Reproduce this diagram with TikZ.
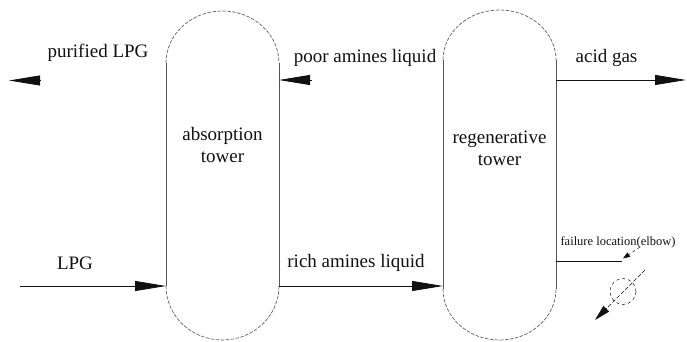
\documentclass[tikz,border=0pt]{standalone}
\usepackage{fontspec}
\setmainfont{Liberation Serif}
\newfontfamily\lpgfonte{Liberation Serif}
\usetikzlibrary{positioning,arrows.meta,calc}
\definecolor{lpgpreto}{HTML}{111111}
\definecolor{lpgcinza}{HTML}{555555}
\definecolor{lpgcinzaclaro}{HTML}{606060}
\tikzset{
  lpgcorpo/.style={draw=none, inner sep=0pt, outer sep=0pt, minimum width=113pt},
  lpglado/.style={draw=lpgcinza, line width=0.9pt},
  lpgtampa/.style={draw=lpgcinzaclaro, line width=0.7pt, dash pattern=on 3.5pt off 1.5pt},
  lpgseta/.style={-{Triangle[length=31pt, width=10pt]}, line width=0.8pt, draw=lpgpreto},
  lpgsetafina/.style={-{Triangle[length=7pt, width=5pt]}, line width=0.5pt, dashed, draw=lpgpreto},
  lpgsetamedia/.style={-{Triangle[length=16pt, width=8pt]}, line width=0.6pt, dash pattern=on 4pt off 2pt, draw=lpgpreto},
  lpgrotulo/.style={font=\lpgfonte\fontsize{19}{22}\selectfont, text=lpgpreto, align=center, inner sep=0pt},
  lpgrotulopequeno/.style={font=\lpgfonte\fontsize{12.5}{14}\selectfont, text=lpgpreto, inner sep=0pt},
}
\begin{document}
\begin{tikzpicture}[x=1pt, y=1pt]
    \useasboundingbox (0,0) rectangle (687,342);
    % torres
    \node[lpgcorpo, minimum height=223pt] (abs) at (222.5,167.5) {};
    \node[lpgcorpo, minimum height=229pt] (reg) at (499.5,167.5) {};
    \foreach \t/\rt/\rb in {abs/52/54, reg/50/51} {
        \draw[lpglado] (\t.north west) -- (\t.south west);
        \draw[lpglado] (\t.north east) -- (\t.south east);
        \draw[lpgtampa] (\t.north west) arc[start angle=180, end angle=0, x radius=56.5, y radius=\rt];
        \draw[lpgtampa] (\t.south west) arc[start angle=180, end angle=360, x radius=56.5, y radius=\rb];
    }
    \node[lpgrotulo] (abstxt) at (222.5,197) {absorption\\ tower};
    \node[lpgrotulo] (regtxt) at (499.5,194) {regenerative\\ tower};
    % correntes
    \node[lpgrotulo, anchor=base] (plpg) at (98,284) {purified LPG};
    \node[lpgrotulo, anchor=base] (pobre) at (365,279) {poor amines liquid};
    \node[lpgrotulo, anchor=base] (acido) at (606.5,279) {acid gas};
    \node[lpgrotulo, anchor=base] (lpg) at (75,72) {LPG};
    \node[lpgrotulo, anchor=base] (rico) at (356,74) {rich amines liquid};
    \node[lpgrotulopequeno, anchor=base] (falha) at (618,96) {failure location(elbow)};
    \coordinate (plpga) at (40,261.5);
    \coordinate (plpgb) at (9,261.5);
    \coordinate (pobrea) at (312,262);
    \coordinate (acidob) at (686,262);
    \coordinate (lpga) at (20,56);
    \coordinate (cotovelo) at (622,81);
    \draw[lpgseta] (plpga) -- (plpgb);
    \draw[lpgseta] (pobrea) -- (abs.east |- pobrea);
    \draw[lpgseta] (reg.east |- acidob) -- (acidob);
    \draw[lpgseta] (lpga) -- (abs.west |- lpga);
    \draw[lpgseta] (abs.east |- lpga) -- (reg.west |- lpga);
    % ponto de falha
    \draw[lpglado, draw=lpgpreto, line width=0.7pt] (reg.east |- cotovelo) -- (cotovelo);
    \coordinate (fa) at (640,95);
    \coordinate (fb) at (623,83.5);
    \draw[lpgsetafina] (fa) -- (fb);
    \node[circle, draw=lpgpreto, dashed, line width=0.5pt, minimum size=26pt, inner sep=0pt] (circ) at (623,50.5) {};
    \coordinate (da) at (645,72);
    \coordinate (db) at (595,22);
    \draw[lpgsetamedia] (da) -- (db);
\end{tikzpicture}
\end{document}
